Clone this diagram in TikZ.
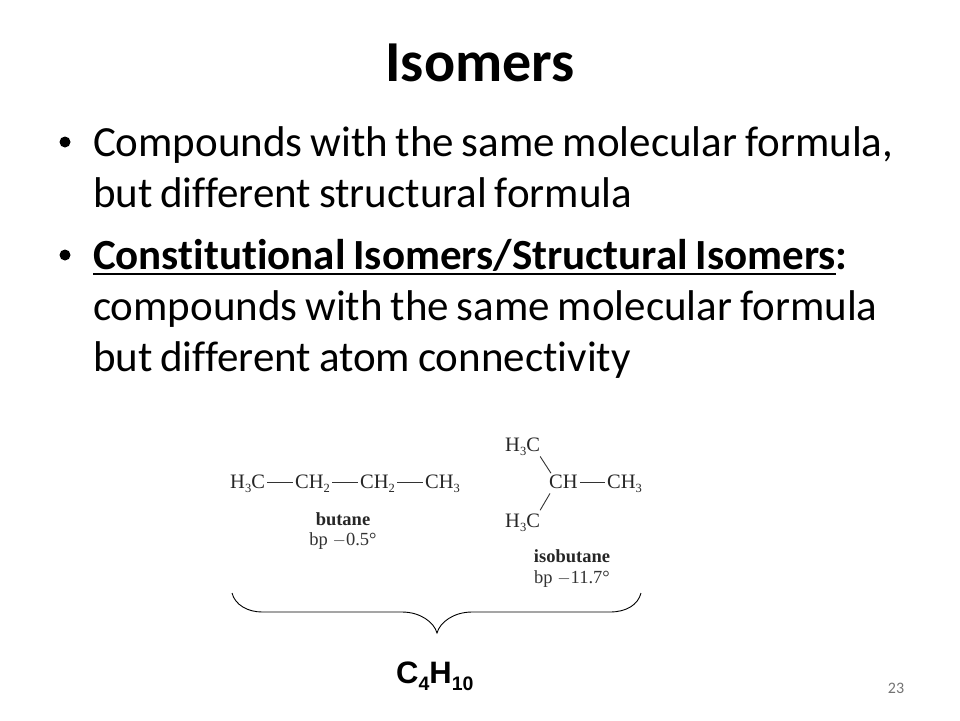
\documentclass[tikz,border=0pt]{standalone}
\usepackage{fontspec}
\setmainfont[Ligatures=NoCommon,WordSpace=0.8]{Carlito}
\newfontfamily\serifmol{Liberation Serif}
\newfontfamily\sansbold{Liberation Sans}
\newcommand{\sbs}[1]{\raisebox{-0.2em}{\fontsize{12.5}{12.5}\selectfont #1}}
\tikzset{
  x=1pt,y=-1pt,
  body/.style={anchor=base west,inner sep=0pt,outer sep=0pt,font=\fontsize{43}{43}\selectfont,text=black},
  dotmark/.style={circle,fill=black,inner sep=0pt,minimum size=11pt},
  mol/.style={anchor=base west,inner sep=0pt,outer sep=2.2pt,font=\serifmol\fontsize{20.5}{20.5}\selectfont,text=black!85},
  molname/.style={anchor=base,inner sep=0pt,font=\serifmol\bfseries\fontsize{18.5}{18.5}\selectfont,text=black!85},
  bp/.style={anchor=base,inner sep=0pt,font=\serifmol\fontsize{18.5}{18.5}\selectfont,text=black!80},
  bond/.style={draw=black!80,line width=0.9pt},
  brace/.style={draw=black,line width=0.9pt},
  rulebar/.style={draw=black,line width=2pt}
}
\begin{document}
\begin{tikzpicture}
\useasboundingbox (0,0) rectangle (960,720);
\node[anchor=base,inner sep=0pt,font=\bfseries\fontsize{58}{58}\selectfont] (title) at (480,81) {Isomers};
\node[dotmark] (b1) at (65,142) {};
\node[body] (l1) at (93,156) {Compounds with the same molecular formula,};
\node[body] (l2) at (93,207) {but different structural formula};
\node[dotmark] (b2) at (65,255) {};
\node[body,font=\bfseries\fontsize{43}{43}\selectfont] (l3) at (93,269) {Constitutional Isomers/Structural Isomers};
\node[body,font=\bfseries\fontsize{43}{43}\selectfont] (l3c) at (l3.base east) {:};
\draw[rulebar] ([yshift=-5pt]l3.base west) -- ([yshift=-5pt]l3.base east);
\node[body] (l4) at (93,320) {compounds with the same molecular formula};
\node[body] (l5) at (93,371) {but different atom connectivity};
% butane
\node[mol] (a1) at (228,488) {H\sbs{3}C};
\node[mol] (a2) at (293,488) {CH\sbs{2}};
\node[mol] (a3) at (358,488) {CH\sbs{2}};
\node[mol] (a4) at (423,488) {CH\sbs{3}};
\coordinate (m1) at (0,482);
\draw[bond] (a1.east |- m1) -- (a2.west |- m1);
\draw[bond] (a2.east |- m1) -- (a3.west |- m1);
\draw[bond] (a3.east |- m1) -- (a4.west |- m1);
\node[molname] (bn) at (343,525) {butane};
\node[bp] (bb) at (343,545) {bp $-$0.5°};
% isobutane
\node[mol] (i1) at (503,451) {H\sbs{3}C};
\node[mol] (i2) at (547,488) {CH};
\node[mol] (i3) at (605,488) {CH\sbs{3}};
\node[mol] (i4) at (503,527) {H\sbs{3}C};
\draw[bond] (i2.east |- m1) -- (i3.west |- m1);
\draw[bond] ([xshift=-2pt,yshift=1pt]i1.south east) -- ([xshift=4pt,yshift=-1pt]i2.north west);
\draw[bond] ([xshift=3pt,yshift=-3pt]i2.south west) -- ([xshift=-2pt,yshift=1pt]i4.north east);
\node[molname] (in) at (572,562) {isobutane};
\node[bp] (ib) at (572,583) {bp $-$11.7°};
% brace
\coordinate (bl) at (232,593);
\coordinate (br) at (641,593);
\coordinate (bt) at (437,633);
\draw[brace] (bl) .. controls (235,605) and (248,612) .. (262,612) -- (402,612)
  .. controls (420,612) and (434,622) .. (bt)
  .. controls (440,622) and (454,612) .. (472,612) -- (610,612)
  .. controls (626,612) and (638,605) .. (br);
\node[anchor=base west,inner sep=0pt,font=\sansbold\bfseries\fontsize{31}{31}\selectfont] (f) at (396,683) {C\raisebox{-0.24em}{\fontsize{19.5}{19.5}\selectfont 4}H\raisebox{-0.24em}{\fontsize{19.5}{19.5}\selectfont 10}};
\node[anchor=base,inner sep=0pt,font=\fontsize{16}{16}\selectfont,text=black!55] (pg) at (896,693) {23};
\end{tikzpicture}
\end{document}
